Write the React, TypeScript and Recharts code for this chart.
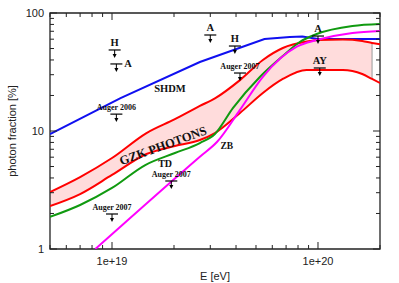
import React from "react"
import { ComposedChart, Line, Area, Scatter, XAxis, YAxis, ReferenceArea, ReferenceLine } from "recharts"

document.body.style.margin = "0"

const W = 399
const H = 283
const Y_W = 50
const X_H = 34
const MARGIN = { top: 13, right: 19, left: 0, bottom: 0 }
const PLOT_W = W - MARGIN.right - Y_W
const PLOT_H = H - MARGIN.top - X_H

const xDomain = [5e18, 2e20]
const yDomain = [1, 100]
const xTicks = [5e18, 6e18, 7e18, 8e18, 9e18, 1e19, 2e19, 3e19, 4e19, 5e19, 6e19, 7e19, 8e19, 9e19, 1e20, 2e20]
const xMajor = [1e19, 1e20]
const xMajorLabels = ["1e+19", "1e+20"]
const yTicks = [1, 2, 3, 4, 5, 6, 7, 8, 9, 10, 20, 30, 40, 50, 60, 70, 80, 90, 100]
const yMajor = [1, 10, 100]
const yMajorLabels = ["1", "10", "100"]

// SHDM (bleu)
const shdmE = [5e18, 1.1e19, 2.67e19, 5.5e19, 7.3e19, 8.4e19, 1e20, 2e20]
const shdmF = [9.4, 19.0, 38.4, 60.2, 62.6, 63.2, 60.2, 60.2]

// bande GZK : bord haut / bord bas
const gzkE = [5e18, 7e18, 1e19, 1.47e19, 2.02e19, 2.67e19, 3.16e19, 4.18e19, 5.4e19, 6.75e19, 8.8e19, 1e20, 1.32e20, 1.64e20, 1.83e20, 2e20]
const gzkHi = [3.04, 4.07, 5.9, 9.61, 12.6, 16.3, 18.9, 27.0, 40.0, 50.5, 57.3, 59.0, 59.6, 57.9, 55.7, 54.4]
const gzkLo = [2.31, 2.92, 4.24, 6.38, 7.46, 8.39, 9.61, 14.2, 21.0, 27.6, 32.9, 32.9, 32.9, 30.4, 27.6, 25.5]

// TD (vert)
const tdE = [5e18, 7e18, 1e19, 1.45e19, 2.02e19, 2.67e19, 3.16e19, 3.87e19, 5.22e19, 6.75e19, 8.15e19, 9.86e19, 1.47e20, 2e20]
const tdF = [1.87, 2.36, 3.29, 5.15, 6.51, 7.91, 9.44, 15.7, 28.7, 43.2, 56.8, 66.4, 77.6, 80.7]

// ZB (magenta)
const zbE = [8.3e18, 2.67e19, 3.24e19, 4.18e19, 5.4e19, 7.89e19, 9.86e19, 1.47e20, 2e20]
const zbF = [1.0, 6.06, 8.1, 15.1, 28.8, 51.8, 59.0, 67.7, 70.4]

// limites supérieures expérimentales
const limE = [1.03e19, 1.05e19, 1.05e19, 3e19, 3.95e19, 4.18e19, 1e20, 1.02e20, 1.94e19, 1e19]
const limF = [48.6, 37.0, 13.9, 65.1, 52.5, 31.0, 63.8, 34.2, 3.77, 1.98]
const limText = ["H", "A", "Auger 2006", "A", "H", "Auger 2007", "A", "AY", "Auger 2007", "Auger 2007"]
const limSide = ["top", "right", "top", "top", "top", "top", "top", "top", "top", "top"]

// noms des courbes
const nameText = ["SHDM", "GZK PHOTONS", "TD", "ZB"]
const nameE = [1.91e19, 1.77e19, 1.81e19, 3.61e19]
const nameF = [23.1, 7.5, 5.35, 7.46]
const nameAngle = [0, -20, 0, 0]
const nameSize = [10.5, 12.5, 10, 9.5]

const toPts = (xs: number[], ys: number[]) => xs.map((E, i) => ({ E, F: ys[i] }))
const shdm = toPts(shdmE, shdmF)
const gzkUp = toPts(gzkE, gzkHi)
const gzkDown = toPts(gzkE, gzkLo)
const band = gzkE.slice(0, gzkE.length - 1).map((E, i) => ({ E, band: [gzkLo[i], gzkHi[i]] }))
const bandEnd = gzkE.length - 2
const td = toPts(tdE, tdF)
const zb = toPts(zbE, zbF)
const limits = limE.map((E, i) => ({ E, F: limF[i], text: limText[i], side: limSide[i] }))
const names = nameE.map((E, i) => ({ E, F: nameF[i], text: nameText[i], angle: nameAngle[i], size: nameSize[i] }))

const SERIF = "'Liberation Serif', 'DejaVu Serif', serif"
const SANS = "'Liberation Sans', Arial, sans-serif"
const AXIS = "#222"

function XTick({ x, y, payload }: any) {
  const i = xMajor.indexOf(payload.value)
  const len = i >= 0 ? 7 : 4
  return (
    <g>
      <line x1={x} x2={x} y1={y} y2={y - len} stroke={AXIS} strokeWidth={1} />
      <line x1={x} x2={x} y1={y - PLOT_H} y2={y - PLOT_H + len} stroke={AXIS} strokeWidth={1} />
      {i >= 0 && (
        <text x={x} y={y + 16} textAnchor="middle" fontSize={11} fontFamily={SANS} fill="#222">
          {xMajorLabels[i]}
        </text>
      )}
    </g>
  )
}

function YTick({ x, y, payload }: any) {
  const i = yMajor.indexOf(payload.value)
  const len = i >= 0 ? 7 : 4
  return (
    <g>
      <line x1={x} x2={x + len} y1={y} y2={y} stroke={AXIS} strokeWidth={1} />
      <line x1={x + PLOT_W} x2={x + PLOT_W - len} y1={y} y2={y} stroke={AXIS} strokeWidth={1} />
      {i >= 0 && (
        <text x={x - 6} y={y + 4} textAnchor="end" fontSize={11} fontFamily={SANS} fill="#222">
          {yMajorLabels[i]}
        </text>
      )}
    </g>
  )
}

function LimitMark({ cx, cy, payload }: any) {
  const small = payload.text.length > 2
  const right = payload.side === "right"
  return (
    <g>
      <line x1={cx - 6} x2={cx + 6} y1={cy} y2={cy} stroke="#000" strokeWidth={1.2} />
      <line x1={cx} x2={cx} y1={cy} y2={cy + 5} stroke="#000" strokeWidth={1} />
      <path d={`M${cx - 2},${cy + 4} L${cx + 2},${cy + 4} L${cx},${cy + 8} Z`} fill="#000" />
      <text
        x={right ? cx + 8 : cx}
        y={right ? cy + 3.5 : cy - 4}
        textAnchor={right ? "start" : "middle"}
        fontSize={small ? 8 : 10.5}
        fontWeight="bold"
        fontFamily={SERIF}
        fill="#111"
      >
        {payload.text}
      </text>
    </g>
  )
}

function CurveName({ cx, cy, payload }: any) {
  return (
    <text
      x={cx}
      y={cy}
      transform={`rotate(${payload.angle} ${cx} ${cy})`}
      textAnchor="middle"
      dominantBaseline="central"
      fontSize={payload.size}
      fontWeight="bold"
      fontFamily={SERIF}
      fill="#111"
    >
      {payload.text}
    </text>
  )
}

function YTitle({ viewBox }: any) {
  const x = viewBox.x + 12
  const y = viewBox.y + viewBox.height / 2
  return (
    <text x={x} y={y} transform={`rotate(-90 ${x} ${y})`} textAnchor="middle" dominantBaseline="central" fontSize={11} fontFamily={SANS} fill="#222">
      photon fraction [%]
    </text>
  )
}

function XTitle({ viewBox }: any) {
  return (
    <text x={viewBox.x + viewBox.width / 2} y={viewBox.y + 31} textAnchor="middle" fontSize={11} fontFamily={SANS} fill="#222">
      E [eV]
    </text>
  )
}

export default function App() {
  return (
    <div style={{ width: W, height: H, background: "#fff" }}>
      <ComposedChart width={W} height={H} margin={MARGIN}>
        <XAxis
          dataKey="E"
          type="number"
          scale="log"
          domain={xDomain}
          allowDataOverflow
          ticks={xTicks}
          interval={0}
          tickSize={0}
          tickMargin={0}
          axisLine={false}
          tickLine={false}
          tick={(p: any) => <XTick {...p} />}
          height={X_H}
          label={(p: any) => <XTitle {...p} />}
        />
        <YAxis
          dataKey="F"
          type="number"
          scale="log"
          domain={yDomain}
          allowDataOverflow
          ticks={yTicks}
          interval={0}
          tickSize={0}
          tickMargin={0}
          axisLine={false}
          tickLine={false}
          tick={(p: any) => <YTick {...p} />}
          width={Y_W}
          label={(p: any) => <YTitle {...p} />}
        />
        <Area data={band} dataKey="band" type="monotone" fill="#ffdcdc" fillOpacity={1} stroke="none" isAnimationActive={false} />
        <ReferenceLine
          segment={[{ x: gzkE[bandEnd], y: gzkLo[bandEnd] }, { x: gzkE[bandEnd], y: gzkHi[bandEnd] }]}
          stroke="#999"
          strokeWidth={1}
        />
        <Line data={shdm} dataKey="F" type="linear" stroke="#1010f0" strokeWidth={2} dot={false} isAnimationActive={false} />
        <Line data={gzkUp} dataKey="F" type="monotone" stroke="#ff0000" strokeWidth={2} dot={false} isAnimationActive={false} />
        <Line data={gzkDown} dataKey="F" type="monotone" stroke="#ff0000" strokeWidth={2} dot={false} isAnimationActive={false} />
        <Line data={td} dataKey="F" type="monotone" stroke="#109a10" strokeWidth={2} dot={false} isAnimationActive={false} />
        <Line data={zb} dataKey="F" type="monotone" stroke="#ff00ff" strokeWidth={2} dot={false} isAnimationActive={false} />
        <Scatter data={limits} dataKey="F" shape={(p: any) => <LimitMark {...p} />} isAnimationActive={false} />
        <Scatter data={names} dataKey="F" shape={(p: any) => <CurveName {...p} />} isAnimationActive={false} />
        <ReferenceArea
          x1={xDomain[0]}
          x2={xDomain[1]}
          y1={yDomain[0]}
          y2={yDomain[1]}
          fill="none"
          stroke={AXIS}
          strokeWidth={1.3}
          ifOverflow="visible"
        />
      </ComposedChart>
    </div>
  )
}
